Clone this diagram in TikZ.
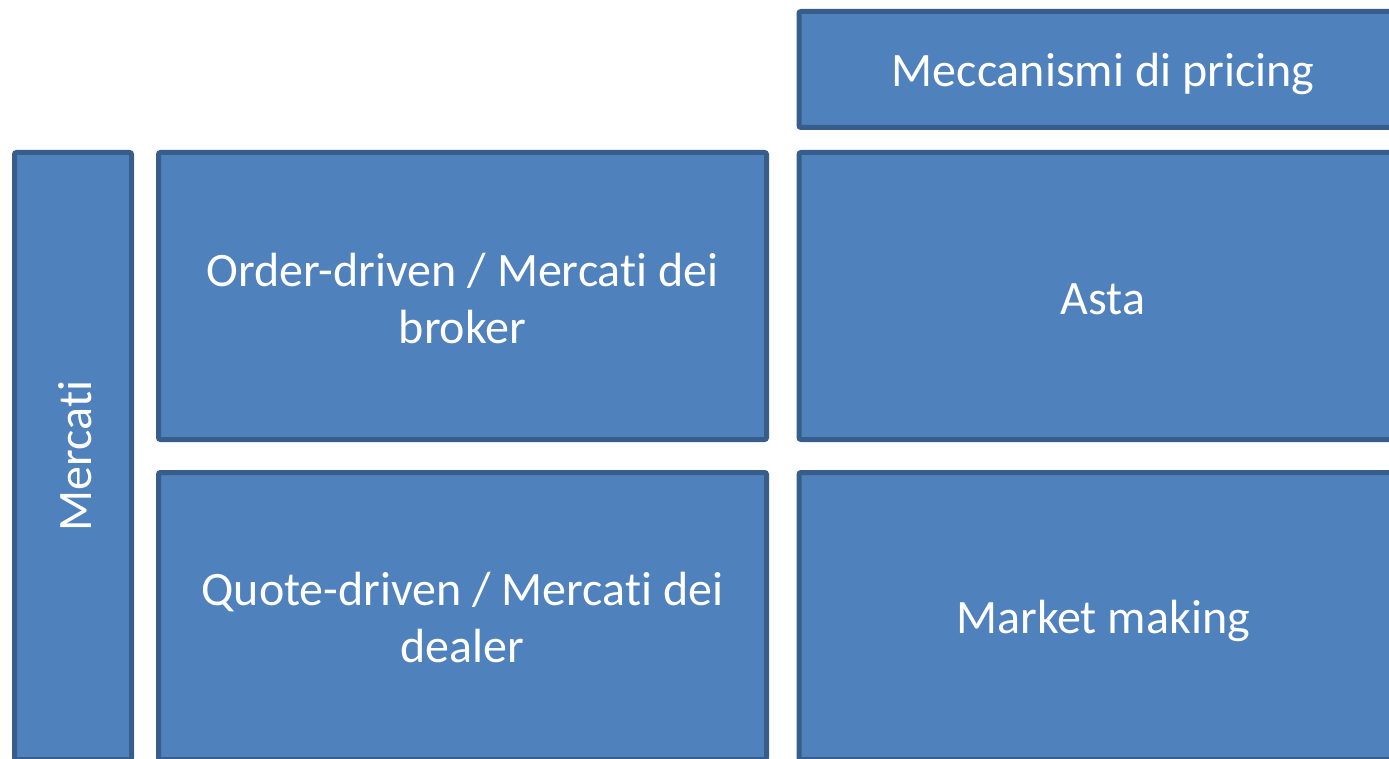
\documentclass[tikz,border=0pt]{standalone}
\usepackage{fontspec}
\setmainfont[Ligatures={NoCommon}]{Carlito}
\definecolor{boxfill}{HTML}{4F81BD}
\definecolor{boxline}{HTML}{385D8A}
\begin{document}
\begin{tikzpicture}[x=1pt,y=-1pt,
  panel/.style={draw=boxline,fill=boxfill,line width=5pt,rounded corners=2pt,
    inner sep=0pt},
  caption/.style={text=white,inner sep=0pt,align=center,
    font=\fontsize{48}{57}\selectfont}]
\useasboundingbox (0,0) rectangle (1389,759);
\clip (0,0) rectangle (1389,759);
% boxes
\node[panel,minimum width=608pt,minimum height=116pt] (pricing) at (1103,69.5) {};
\node[panel,minimum width=117pt,minimum height=607pt] (mercati) at (73,456) {};
\node[panel,minimum width=608pt,minimum height=287pt] (order) at (462.5,296) {};
\node[panel,minimum width=608pt,minimum height=287pt] (quote) at (462.5,616) {};
\node[panel,minimum width=608pt,minimum height=287pt] (asta) at (1103,296) {};
\node[panel,minimum width=608pt,minimum height=287pt] (making) at (1103,616) {};
% texts, set a little below the box centres
\node[caption] (tpricing) at ([yshift=-4pt]pricing.center) {Meccanismi di pricing};
\node[caption,rotate=90] (tmercati) at ([xshift=2pt]mercati.center) {Mercati};
\node[caption] (torder) at ([yshift=-2pt]order.center) {Order-driven / Mercati dei\\broker};
\node[caption] (tquote) at ([yshift=-2pt]quote.center) {Quote-driven / Mercati dei\\dealer};
\node[caption] (tasta) at ([yshift=-3pt]asta.center) {Asta};
\node[caption] (tmaking) at ([yshift=-5pt]making.center) {Market making};
\end{tikzpicture}
\end{document}
